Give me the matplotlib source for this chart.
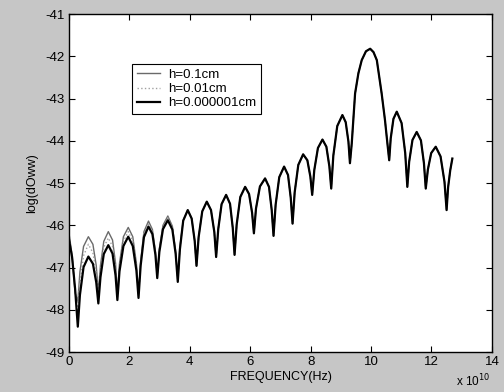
import matplotlib
matplotlib.use("Agg")
import matplotlib.pyplot as plt

plt.rcParams['font.family'] = ['Liberation Sans', 'DejaVu Sans']
plt.rcParams['axes.unicode_minus'] = False

# Frequency in units of 1e10 Hz
freq = [0.00, 0.10, 0.20, 0.29, 0.36, 0.48, 0.64, 0.79, 0.90, 0.97,
        1.04, 1.15, 1.30, 1.44, 1.54, 1.60, 1.67, 1.80, 1.96, 2.11,
        2.23, 2.30, 2.37, 2.48, 2.63, 2.76, 2.86, 2.92, 2.99, 3.11,
        3.27, 3.42, 3.53, 3.60, 3.67, 3.78, 3.93,
        4.06, 4.16, 4.22, 4.29, 4.41, 4.56, 4.70, 4.81, 4.87,
        4.94, 5.05, 5.20, 5.33, 5.42, 5.48, 5.55, 5.67, 5.83, 5.96, 6.06, 6.12,
        6.19, 6.32, 6.49, 6.62, 6.71, 6.77, 6.84, 6.96, 7.12, 7.25, 7.34, 7.40,
        7.47, 7.59, 7.75, 7.89, 7.99, 8.05, 8.12, 8.24, 8.39, 8.52, 8.62, 8.68,
        8.75, 8.88, 9.05, 9.16, 9.25, 9.30,
        9.36, 9.47, 9.58, 9.69, 9.83, 9.97, 10.08, 10.19, 10.35, 10.46, 10.54, 10.60,
        10.65, 10.74, 10.85, 11.01, 11.13, 11.20, 11.26, 11.37, 11.51, 11.65, 11.75, 11.81,
        11.88, 11.99, 12.14, 12.30, 12.43, 12.50, 12.55, 12.62, 12.69]

# Values shared by all three curves from x = 4.06 onwards
tail = [-45.84, -46.37, -46.96, -46.28, -45.67, -45.44, -45.64, -46.16, -46.75,
        -46.09, -45.50, -45.28, -45.49, -46.06, -46.70, -45.98, -45.33, -45.09, -45.26, -45.70, -46.19,
        -45.60, -45.08, -44.89, -45.09, -45.64, -46.25, -45.51, -44.86, -44.61, -44.81, -45.35, -45.96,
        -45.22, -44.57, -44.32, -44.46, -44.85, -45.28, -44.69, -44.17, -43.97, -44.14, -44.61, -45.13,
        -44.35, -43.65, -43.39, -43.56, -44.02, -44.53,
        -44.06, -42.88, -42.40, -42.09, -41.88, -41.82, -41.90, -42.09, -42.88, -43.51, -44.06, -44.46,
        -43.94, -43.48, -43.31, -43.58, -44.29, -45.09, -44.50, -43.98, -43.79, -43.99, -44.53, -45.13,
        -44.68, -44.29, -44.14, -44.37, -44.97, -45.64, -45.10, -44.70, -44.42]

h1_left = [-46.20, -46.70, -47.60, -47.80, -47.10, -46.50, -46.27, -46.45, -46.95, -47.60,
           -46.95, -46.38, -46.15, -46.35, -46.90, -47.65, -46.90, -46.27, -46.05, -46.27,
           -46.90, -47.65, -46.85, -46.15, -45.90, -46.10, -46.62, -47.20, -46.55, -46.00,
           -45.78, -46.02, -46.62, -47.30, -46.52, -45.88, -45.64]
h2_left = [-46.25, -46.72, -47.55, -48.00, -47.35, -46.72, -46.45, -46.65, -47.12, -47.70,
           -47.08, -46.52, -46.30, -46.50, -47.02, -47.70, -46.98, -46.38, -46.15, -46.37,
           -46.98, -47.68, -46.90, -46.20, -45.97, -46.15, -46.65, -47.22, -46.58, -46.04,
           -45.82, -46.05, -46.65, -47.32, -46.55, -45.89, -45.64]
h3_left = [-46.35, -46.75, -47.50, -48.40, -47.65, -46.99, -46.74, -46.91, -47.35, -47.85,
           -47.23, -46.68, -46.47, -46.67, -47.19, -47.77, -47.09, -46.49, -46.27, -46.49,
           -47.07, -47.72, -46.96, -46.28, -46.03, -46.21, -46.70, -47.25, -46.63, -46.09,
           -45.88, -46.10, -46.68, -47.34, -46.57, -45.89, -45.64]

y_h1 = h1_left + tail
y_h2 = h2_left + tail
y_h3 = h3_left + tail

labels = ['h=0.1cm', 'h=0.01cm', 'h=0.000001cm']
xticks = [0, 2, 4, 6, 8, 10, 12, 14]
yticks = [-49, -48, -47, -46, -45, -44, -43, -42, -41]

fig = plt.figure(figsize=(5.04, 3.92), dpi=100, facecolor='#c6c6c6')
ax = fig.add_axes([0.137, 0.102, 0.839, 0.862])
ax.set_facecolor('white')

l1, = ax.plot(freq, y_h1, color='#6a6a6a', lw=1.0, ls='-')
l2, = ax.plot(freq, y_h2, color='#a0a0a0', lw=1.0, ls=':')
l3, = ax.plot(freq, y_h3, color='black', lw=1.6, ls='-')

ax.set_xlim(0, 14)
ax.set_ylim(-49, -41)
ax.set_xticks(xticks)
ax.set_yticks(yticks)
ax.set_xticklabels([str(t) for t in xticks])
ax.set_yticklabels([str(t) for t in yticks])
ax.tick_params(direction='in', length=4, width=0.8, top=True, right=True,
               labelsize=9.5, colors='black', pad=3)
for s in ax.spines.values():
    s.set_color('black')
    s.set_linewidth(1.0)

ax.set_xlabel('FREQUENCY(Hz)', fontsize=9, labelpad=2)
ax.set_ylabel('log(dOww)', fontsize=9, labelpad=5)

fig.text(0.905, 0.008, r'x 10$^{10}$', fontsize=8.5, ha='left', va='bottom')

leg = ax.legend([l1, l2, l3], labels, loc='upper left', bbox_to_anchor=(0.149, 0.852),
                borderaxespad=0, fontsize=9.5, handlelength=1.8, handletextpad=0.6,
                labelspacing=0.15, borderpad=0.35, fancybox=False, framealpha=1,
                edgecolor='black')
leg.get_frame().set_linewidth(0.8)

fig.savefig('out.png', dpi=100, facecolor=fig.get_facecolor())
